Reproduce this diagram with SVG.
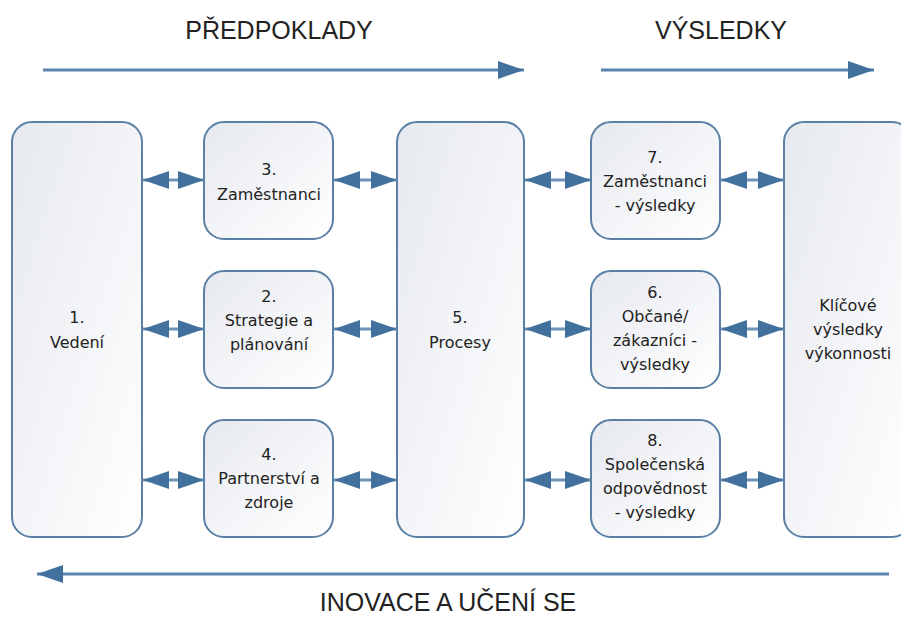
<svg xmlns="http://www.w3.org/2000/svg" width="901" height="618" viewBox="0 0 901 618">
<defs>
<linearGradient id="g" x1="0" y1="0" x2="1" y2="1">
<stop offset="0" stop-color="#e6e9ef"/>
<stop offset="1" stop-color="#ffffff"/>
</linearGradient>
<marker id="ah" viewBox="0 0 26 18" refX="26" refY="9" markerWidth="26" markerHeight="18" markerUnits="userSpaceOnUse" orient="auto-start-reverse">
<path d="M0,0 L26,9 L0,18 Z" fill="#41719c"/>
</marker>
</defs>
<style>
.box{fill:url(#g);stroke:#5b80a5;stroke-width:2}
.t{font-family:"DejaVu Sans",sans-serif;font-size:16px;fill:#222;text-anchor:middle}
.h{font-family:"Liberation Sans",Arial,sans-serif;font-size:25px;fill:#222;text-anchor:middle}
.c{stroke:#5b84ad;stroke-width:3;fill:none}
.d{stroke:#6f93b8;stroke-width:3;fill:none}
</style>

<g id="headings">
<text class="h" x="279" y="39">PŘEDPOKLADY</text>
<text class="h" x="721" y="39">VÝSLEDKY</text>
<text class="h" x="448" y="611">INOVACE A UČENÍ SE</text>
</g>

<g id="connectors">
<line class="c" x1="43" y1="70" x2="524" y2="70" marker-end="url(#ah)"/>
<line class="c" x1="601" y1="70" x2="874" y2="70" marker-end="url(#ah)"/>
<line class="c" x1="889" y1="574" x2="37" y2="574" marker-end="url(#ah)"/>

<line class="d" x1="143" y1="180" x2="204" y2="180" marker-start="url(#ah)" marker-end="url(#ah)"/>
<line class="d" x1="334" y1="180" x2="397" y2="180" marker-start="url(#ah)" marker-end="url(#ah)"/>
<line class="d" x1="525" y1="180" x2="591" y2="180" marker-start="url(#ah)" marker-end="url(#ah)"/>
<line class="d" x1="721" y1="180" x2="784" y2="180" marker-start="url(#ah)" marker-end="url(#ah)"/>

<line class="d" x1="143" y1="329" x2="204" y2="329" marker-start="url(#ah)" marker-end="url(#ah)"/>
<line class="d" x1="334" y1="329" x2="397" y2="329" marker-start="url(#ah)" marker-end="url(#ah)"/>
<line class="d" x1="525" y1="329" x2="591" y2="329" marker-start="url(#ah)" marker-end="url(#ah)"/>
<line class="d" x1="721" y1="329" x2="784" y2="329" marker-start="url(#ah)" marker-end="url(#ah)"/>

<line class="d" x1="143" y1="480" x2="204" y2="480" marker-start="url(#ah)" marker-end="url(#ah)"/>
<line class="d" x1="334" y1="480" x2="397" y2="480" marker-start="url(#ah)" marker-end="url(#ah)"/>
<line class="d" x1="525" y1="480" x2="591" y2="480" marker-start="url(#ah)" marker-end="url(#ah)"/>
<line class="d" x1="721" y1="480" x2="784" y2="480" marker-start="url(#ah)" marker-end="url(#ah)"/>
</g>

<g id="n1">
<rect class="box" x="12" y="122" width="130" height="415" rx="20"/>
<text class="t" x="77" y="323">1.</text>
<text class="t" x="77" y="348">Vedení</text>
</g>
<g id="n3">
<rect class="box" x="204" y="122" width="129" height="117" rx="20"/>
<text class="t" x="269" y="175">3.</text>
<text class="t" x="269" y="200">Zaměstnanci</text>
</g>
<g id="n2">
<rect class="box" x="204" y="271" width="129" height="117" rx="20"/>
<text class="t" x="269" y="302">2.</text>
<text class="t" x="269" y="326">Strategie a</text>
<text class="t" x="269" y="350">plánování</text>
</g>
<g id="n4">
<rect class="box" x="204" y="420" width="129" height="117" rx="20"/>
<text class="t" x="269" y="460">4.</text>
<text class="t" x="269" y="484">Partnerství a</text>
<text class="t" x="269" y="508">zdroje</text>
</g>
<g id="n5">
<rect class="box" x="397" y="122" width="127" height="415" rx="20"/>
<text class="t" x="460" y="323">5.</text>
<text class="t" x="460" y="348">Procesy</text>
</g>
<g id="n7">
<rect class="box" x="591" y="122" width="129" height="117" rx="20"/>
<text class="t" x="655" y="163">7.</text>
<text class="t" x="655" y="187">Zaměstnanci</text>
<text class="t" x="655" y="211">- výsledky</text>
</g>
<g id="n6">
<rect class="box" x="591" y="271" width="129" height="117" rx="20"/>
<text class="t" x="655" y="298">6.</text>
<text class="t" x="655" y="322">Občané/</text>
<text class="t" x="655" y="346">zákazníci -</text>
<text class="t" x="655" y="370">výsledky</text>
</g>
<g id="n8">
<rect class="box" x="591" y="420" width="129" height="117" rx="20"/>
<text class="t" x="655" y="446">8.</text>
<text class="t" x="655" y="470">Společenská</text>
<text class="t" x="655" y="494">odpovědnost</text>
<text class="t" x="655" y="518">- výsledky</text>
</g>
<g id="n9">
<rect class="box" x="784" y="122" width="128" height="415" rx="20"/>
<text class="t" x="848" y="311">Klíčové</text>
<text class="t" x="848" y="335">výsledky</text>
<text class="t" x="848" y="359">výkonnosti</text>
</g>
</svg>
